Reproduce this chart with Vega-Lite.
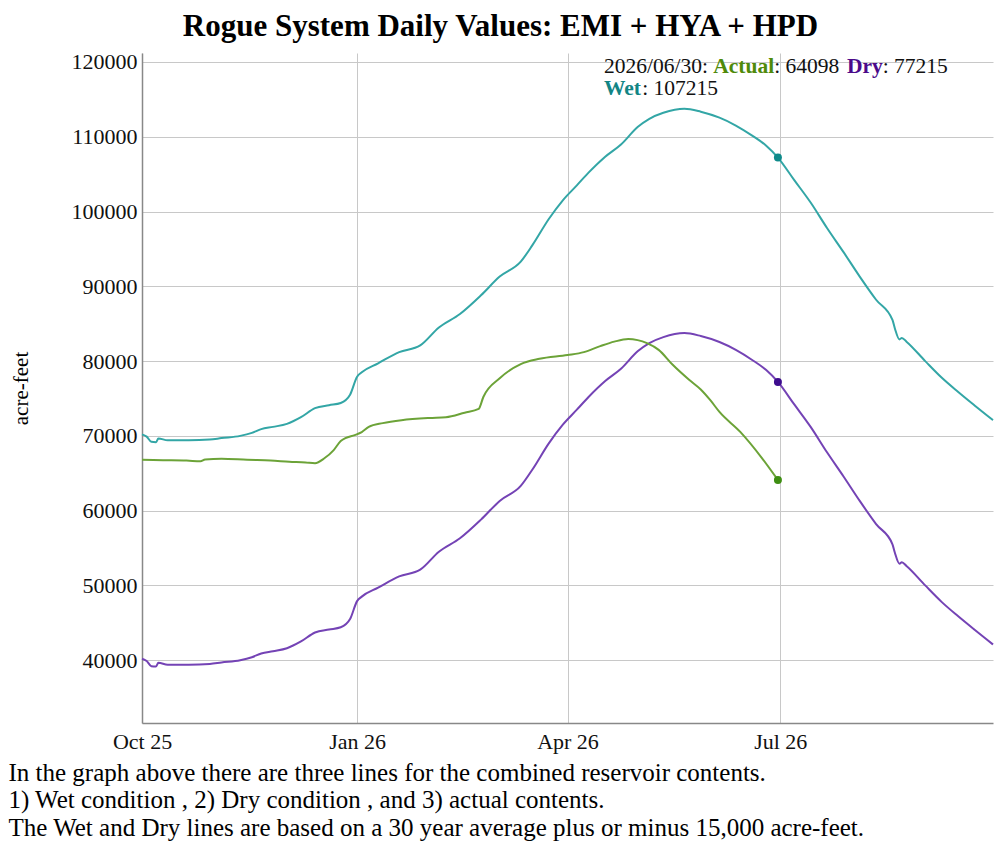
{
  "$schema": "https://vega.github.io/schema/vega-lite/v6.json",
  "width": 851,
  "height": 670,
  "autosize": {"type": "none"},
  "padding": {"left": 142, "top": 53, "right": 8, "bottom": 122},
  "background": "white",
  "config": {"view": {"stroke": null}, "font": "Liberation Serif"},
  "title": {
    "text": "Rogue System Daily Values: EMI + HYA + HPD",
    "font": "Liberation Serif",
    "fontSize": 31,
    "fontWeight": "bold",
    "color": "#000",
    "anchor": "middle",
    "dx": -67,
    "dy": 32,
    "offset": 16,
    "baseline": "alphabetic"
  },
  "datasets": {
    "series": [
      {"date": "2025-10-01", "series": "Dry", "value": 40200},
      {"date": "2025-10-03", "series": "Dry", "value": 39900},
      {"date": "2025-10-05", "series": "Dry", "value": 39200},
      {"date": "2025-10-07", "series": "Dry", "value": 39150},
      {"date": "2025-10-08", "series": "Dry", "value": 39650},
      {"date": "2025-10-12", "series": "Dry", "value": 39400},
      {"date": "2025-10-21", "series": "Dry", "value": 39400},
      {"date": "2025-10-30", "series": "Dry", "value": 39500},
      {"date": "2025-11-04", "series": "Dry", "value": 39700},
      {"date": "2025-11-12", "series": "Dry", "value": 40000},
      {"date": "2025-11-17", "series": "Dry", "value": 40400},
      {"date": "2025-11-21", "series": "Dry", "value": 40900},
      {"date": "2025-11-26", "series": "Dry", "value": 41200},
      {"date": "2025-12-02", "series": "Dry", "value": 41600},
      {"date": "2025-12-08", "series": "Dry", "value": 42500},
      {"date": "2025-12-14", "series": "Dry", "value": 43700},
      {"date": "2025-12-20", "series": "Dry", "value": 44100},
      {"date": "2025-12-25", "series": "Dry", "value": 44400},
      {"date": "2025-12-29", "series": "Dry", "value": 45500},
      {"date": "2026-01-01", "series": "Dry", "value": 47900},
      {"date": "2026-01-03", "series": "Dry", "value": 48500},
      {"date": "2026-01-10", "series": "Dry", "value": 49700},
      {"date": "2026-01-19", "series": "Dry", "value": 51200},
      {"date": "2026-01-28", "series": "Dry", "value": 52100},
      {"date": "2026-02-05", "series": "Dry", "value": 54500},
      {"date": "2026-02-14", "series": "Dry", "value": 56300},
      {"date": "2026-02-23", "series": "Dry", "value": 58800},
      {"date": "2026-03-03", "series": "Dry", "value": 61300},
      {"date": "2026-03-12", "series": "Dry", "value": 63300},
      {"date": "2026-03-17", "series": "Dry", "value": 65500},
      {"date": "2026-03-24", "series": "Dry", "value": 69000},
      {"date": "2026-03-30", "series": "Dry", "value": 71500},
      {"date": "2026-04-05", "series": "Dry", "value": 73500},
      {"date": "2026-04-10", "series": "Dry", "value": 75200},
      {"date": "2026-04-17", "series": "Dry", "value": 77300},
      {"date": "2026-04-24", "series": "Dry", "value": 79000},
      {"date": "2026-05-01", "series": "Dry", "value": 81300},
      {"date": "2026-05-06", "series": "Dry", "value": 82400},
      {"date": "2026-05-12", "series": "Dry", "value": 83200},
      {"date": "2026-05-21", "series": "Dry", "value": 83750},
      {"date": "2026-05-28", "series": "Dry", "value": 83350},
      {"date": "2026-06-05", "series": "Dry", "value": 82550},
      {"date": "2026-06-12", "series": "Dry", "value": 81500},
      {"date": "2026-06-19", "series": "Dry", "value": 80150},
      {"date": "2026-06-25", "series": "Dry", "value": 78800},
      {"date": "2026-06-30", "series": "Dry", "value": 77215},
      {"date": "2026-07-07", "series": "Dry", "value": 74200},
      {"date": "2026-07-14", "series": "Dry", "value": 71200},
      {"date": "2026-07-21", "series": "Dry", "value": 67800},
      {"date": "2026-07-28", "series": "Dry", "value": 64600},
      {"date": "2026-08-04", "series": "Dry", "value": 61300},
      {"date": "2026-08-11", "series": "Dry", "value": 58200},
      {"date": "2026-08-18", "series": "Dry", "value": 55500},
      {"date": "2026-08-19", "series": "Dry", "value": 54400},
      {"date": "2026-08-21", "series": "Dry", "value": 52900},
      {"date": "2026-08-22", "series": "Dry", "value": 53100},
      {"date": "2026-08-24", "series": "Dry", "value": 52600},
      {"date": "2026-09-01", "series": "Dry", "value": 50000},
      {"date": "2026-09-08", "series": "Dry", "value": 47800},
      {"date": "2026-09-15", "series": "Dry", "value": 45900},
      {"date": "2026-09-22", "series": "Dry", "value": 44100},
      {"date": "2026-09-30", "series": "Dry", "value": 42100},

      {"date": "2025-10-01", "series": "Wet", "value": 70200},
      {"date": "2025-10-03", "series": "Wet", "value": 69900},
      {"date": "2025-10-05", "series": "Wet", "value": 69200},
      {"date": "2025-10-07", "series": "Wet", "value": 69150},
      {"date": "2025-10-08", "series": "Wet", "value": 69650},
      {"date": "2025-10-12", "series": "Wet", "value": 69400},
      {"date": "2025-10-21", "series": "Wet", "value": 69400},
      {"date": "2025-10-30", "series": "Wet", "value": 69500},
      {"date": "2025-11-04", "series": "Wet", "value": 69700},
      {"date": "2025-11-12", "series": "Wet", "value": 70000},
      {"date": "2025-11-17", "series": "Wet", "value": 70400},
      {"date": "2025-11-21", "series": "Wet", "value": 70900},
      {"date": "2025-11-26", "series": "Wet", "value": 71200},
      {"date": "2025-12-02", "series": "Wet", "value": 71600},
      {"date": "2025-12-08", "series": "Wet", "value": 72500},
      {"date": "2025-12-14", "series": "Wet", "value": 73700},
      {"date": "2025-12-20", "series": "Wet", "value": 74100},
      {"date": "2025-12-25", "series": "Wet", "value": 74400},
      {"date": "2025-12-29", "series": "Wet", "value": 75500},
      {"date": "2026-01-01", "series": "Wet", "value": 77900},
      {"date": "2026-01-03", "series": "Wet", "value": 78500},
      {"date": "2026-01-10", "series": "Wet", "value": 79700},
      {"date": "2026-01-19", "series": "Wet", "value": 81200},
      {"date": "2026-01-28", "series": "Wet", "value": 82100},
      {"date": "2026-02-05", "series": "Wet", "value": 84500},
      {"date": "2026-02-14", "series": "Wet", "value": 86300},
      {"date": "2026-02-23", "series": "Wet", "value": 88800},
      {"date": "2026-03-03", "series": "Wet", "value": 91300},
      {"date": "2026-03-12", "series": "Wet", "value": 93300},
      {"date": "2026-03-17", "series": "Wet", "value": 95500},
      {"date": "2026-03-24", "series": "Wet", "value": 99000},
      {"date": "2026-03-30", "series": "Wet", "value": 101500},
      {"date": "2026-04-05", "series": "Wet", "value": 103500},
      {"date": "2026-04-10", "series": "Wet", "value": 105200},
      {"date": "2026-04-17", "series": "Wet", "value": 107300},
      {"date": "2026-04-24", "series": "Wet", "value": 109000},
      {"date": "2026-05-01", "series": "Wet", "value": 111300},
      {"date": "2026-05-06", "series": "Wet", "value": 112400},
      {"date": "2026-05-12", "series": "Wet", "value": 113200},
      {"date": "2026-05-21", "series": "Wet", "value": 113750},
      {"date": "2026-05-28", "series": "Wet", "value": 113350},
      {"date": "2026-06-05", "series": "Wet", "value": 112550},
      {"date": "2026-06-12", "series": "Wet", "value": 111500},
      {"date": "2026-06-19", "series": "Wet", "value": 110150},
      {"date": "2026-06-25", "series": "Wet", "value": 108800},
      {"date": "2026-06-30", "series": "Wet", "value": 107215},
      {"date": "2026-07-07", "series": "Wet", "value": 104200},
      {"date": "2026-07-14", "series": "Wet", "value": 101200},
      {"date": "2026-07-21", "series": "Wet", "value": 97800},
      {"date": "2026-07-28", "series": "Wet", "value": 94600},
      {"date": "2026-08-04", "series": "Wet", "value": 91300},
      {"date": "2026-08-11", "series": "Wet", "value": 88200},
      {"date": "2026-08-18", "series": "Wet", "value": 85500},
      {"date": "2026-08-19", "series": "Wet", "value": 84400},
      {"date": "2026-08-21", "series": "Wet", "value": 82900},
      {"date": "2026-08-22", "series": "Wet", "value": 83100},
      {"date": "2026-08-24", "series": "Wet", "value": 82600},
      {"date": "2026-09-01", "series": "Wet", "value": 80000},
      {"date": "2026-09-08", "series": "Wet", "value": 77800},
      {"date": "2026-09-15", "series": "Wet", "value": 75900},
      {"date": "2026-09-22", "series": "Wet", "value": 74100},
      {"date": "2026-09-30", "series": "Wet", "value": 72100},

      {"date": "2025-10-01", "series": "Actual", "value": 66800},
      {"date": "2025-10-10", "series": "Actual", "value": 66750},
      {"date": "2025-10-20", "series": "Actual", "value": 66700},
      {"date": "2025-10-26", "series": "Actual", "value": 66600},
      {"date": "2025-10-28", "series": "Actual", "value": 66850},
      {"date": "2025-11-04", "series": "Actual", "value": 66950},
      {"date": "2025-11-15", "series": "Actual", "value": 66800},
      {"date": "2025-11-25", "series": "Actual", "value": 66700},
      {"date": "2025-12-03", "series": "Actual", "value": 66550},
      {"date": "2025-12-10", "series": "Actual", "value": 66450},
      {"date": "2025-12-14", "series": "Actual", "value": 66350},
      {"date": "2025-12-18", "series": "Actual", "value": 67000},
      {"date": "2025-12-22", "series": "Actual", "value": 68100},
      {"date": "2025-12-25", "series": "Actual", "value": 69300},
      {"date": "2025-12-27", "series": "Actual", "value": 69700},
      {"date": "2025-12-31", "series": "Actual", "value": 70100},
      {"date": "2026-01-03", "series": "Actual", "value": 70500},
      {"date": "2026-01-06", "series": "Actual", "value": 71200},
      {"date": "2026-01-12", "series": "Actual", "value": 71700},
      {"date": "2026-01-20", "series": "Actual", "value": 72100},
      {"date": "2026-02-01", "series": "Actual", "value": 72400},
      {"date": "2026-02-08", "series": "Actual", "value": 72500},
      {"date": "2026-02-16", "series": "Actual", "value": 73100},
      {"date": "2026-02-22", "series": "Actual", "value": 73600},
      {"date": "2026-02-24", "series": "Actual", "value": 75200},
      {"date": "2026-03-03", "series": "Actual", "value": 77700},
      {"date": "2026-03-12", "series": "Actual", "value": 79600},
      {"date": "2026-03-20", "series": "Actual", "value": 80300},
      {"date": "2026-04-01", "series": "Actual", "value": 80800},
      {"date": "2026-04-08", "series": "Actual", "value": 81200},
      {"date": "2026-04-15", "series": "Actual", "value": 82000},
      {"date": "2026-04-21", "series": "Actual", "value": 82600},
      {"date": "2026-04-27", "series": "Actual", "value": 82950},
      {"date": "2026-05-01", "series": "Actual", "value": 82800},
      {"date": "2026-05-05", "series": "Actual", "value": 82400},
      {"date": "2026-05-10", "series": "Actual", "value": 81500},
      {"date": "2026-05-16", "series": "Actual", "value": 79500},
      {"date": "2026-05-23", "series": "Actual", "value": 77500},
      {"date": "2026-05-28", "series": "Actual", "value": 76200},
      {"date": "2026-06-01", "series": "Actual", "value": 74800},
      {"date": "2026-06-05", "series": "Actual", "value": 73200},
      {"date": "2026-06-14", "series": "Actual", "value": 70500},
      {"date": "2026-06-23", "series": "Actual", "value": 67100},
      {"date": "2026-06-30", "series": "Actual", "value": 64098}
    ],
    "current": [
      {"date": "2026-06-30", "series": "Wet", "value": 107215},
      {"date": "2026-06-30", "series": "Dry", "value": 77215},
      {"date": "2026-06-30", "series": "Actual", "value": 64098}
    ],
    "readout": [
      {"label": "2026/06/30:", "actual": 64098, "dry": 77215, "wet": 107215}
    ]
  },
  "resolve": {"scale": {"color": "independent"}},
  "layer": [
    {
      "data": {"name": "series"},
      "mark": {"type": "line", "strokeWidth": 2, "interpolate": "monotone"},
      "encoding": {
        "x": {
          "field": "date",
          "type": "temporal",
          "scale": {
            "domain": [
              {"year": 2025, "month": 10, "date": 1, "utc": true},
              {"year": 2026, "month": 9, "date": 30, "utc": true}
            ]
          },
          "axis": {
            "values": [
              {"year": 2025, "month": 10, "date": 1, "utc": true},
              {"year": 2026, "month": 1, "date": 1, "utc": true},
              {"year": 2026, "month": 4, "date": 1, "utc": true},
              {"year": 2026, "month": 7, "date": 1, "utc": true}
            ],
            "labelExpr": "utcFormat(datum.value, '%b %y')",
            "labelFont": "Liberation Serif",
            "labelFontSize": 22,
            "labelColor": "#111",
            "labelFlush": false,
            "labelPadding": 8,
            "ticks": false,
            "domainColor": "#888",
            "domainWidth": 1.5,
            "grid": true,
            "gridColor": "#c8c8c8",
            "title": [
              "In the graph above there are three lines for the combined reservoir contents.",
              "1) Wet condition , 2) Dry condition , and 3) actual contents.",
              "The Wet and Dry lines are based on a 30 year average plus or minus 15,000 acre-feet."
            ],
            "titleFont": "Liberation Serif",
            "titleFontSize": 25,
            "titleFontWeight": "normal",
            "titleColor": "#000",
            "titleAlign": "left",
            "titleAnchor": "start",
            "titleBaseline": "alphabetic",
            "titleX": -134,
            "titleY": 57,
            "titleLineHeight": 27.5
          }
        },
        "y": {
          "field": "value",
          "type": "quantitative",
          "scale": {"domain": [31600, 121200], "nice": false, "zero": false},
          "axis": {
            "values": [40000, 50000, 60000, 70000, 80000, 90000, 100000, 110000, 120000],
            "format": "d",
            "labelFont": "Liberation Serif",
            "labelFontSize": 22,
            "labelColor": "#111",
            "labelPadding": 5,
            "ticks": false,
            "domainColor": "#888",
            "domainWidth": 1.5,
            "grid": true,
            "gridColor": "#c8c8c8",
            "title": "acre-feet",
            "titleFont": "Liberation Serif",
            "titleFontSize": 21,
            "titleFontWeight": "normal",
            "titleColor": "#000",
            "titlePadding": 40
          }
        },
        "color": {
          "field": "series",
          "type": "nominal",
          "scale": {"domain": ["Wet", "Dry", "Actual"], "range": ["#33a6a6", "#7443b5", "#6ca338"]},
          "legend": null
        }
      }
    },
    {
      "data": {"name": "current"},
      "mark": {"type": "point", "filled": true, "size": 64, "opacity": 1},
      "encoding": {
        "x": {"field": "date", "type": "temporal"},
        "y": {"field": "value", "type": "quantitative"},
        "color": {
          "field": "series",
          "type": "nominal",
          "scale": {"domain": ["Wet", "Dry", "Actual"], "range": ["#0e8a8a", "#3d0c8e", "#3e8e12"]},
          "legend": null
        }
      }
    },
    {
      "data": {"name": "readout"},
      "mark": {"type": "text", "align": "left", "baseline": "alphabetic", "font": "Liberation Serif", "fontSize": 21.5, "color": "#111", "dx": 0},
      "encoding": {
        "x": {"datum": {"year": 2026, "month": 4, "date": 16, "hours": 14, "utc": true}, "type": "temporal"},
        "y": {"datum": 118525, "type": "quantitative"},
        "text": {"field": "label"}
      }
    },
    {
      "data": {"name": "readout"},
      "mark": {"type": "text", "align": "left", "baseline": "alphabetic", "font": "Liberation Serif", "fontSize": 21.5, "fontWeight": "bold", "color": "#4f8a0a", "dx": 109.3},
      "encoding": {
        "x": {"datum": {"year": 2026, "month": 4, "date": 16, "hours": 14, "utc": true}, "type": "temporal"},
        "y": {"datum": 118525, "type": "quantitative"},
        "text": {"value": "Actual"}
      }
    },
    {
      "data": {"name": "readout"},
      "transform": [{"calculate": "': ' + datum.actual", "as": "t"}],
      "mark": {"type": "text", "align": "left", "baseline": "alphabetic", "font": "Liberation Serif", "fontSize": 21.5, "color": "#111", "dx": 170.2},
      "encoding": {
        "x": {"datum": {"year": 2026, "month": 4, "date": 16, "hours": 14, "utc": true}, "type": "temporal"},
        "y": {"datum": 118525, "type": "quantitative"},
        "text": {"field": "t"}
      }
    },
    {
      "data": {"name": "readout"},
      "mark": {"type": "text", "align": "left", "baseline": "alphabetic", "font": "Liberation Serif", "fontSize": 21.5, "fontWeight": "bold", "color": "#4b0a8a", "dx": 243},
      "encoding": {
        "x": {"datum": {"year": 2026, "month": 4, "date": 16, "hours": 14, "utc": true}, "type": "temporal"},
        "y": {"datum": 118525, "type": "quantitative"},
        "text": {"value": "Dry"}
      }
    },
    {
      "data": {"name": "readout"},
      "transform": [{"calculate": "': ' + datum.dry", "as": "t"}],
      "mark": {"type": "text", "align": "left", "baseline": "alphabetic", "font": "Liberation Serif", "fontSize": 21.5, "color": "#111", "dx": 278.8},
      "encoding": {
        "x": {"datum": {"year": 2026, "month": 4, "date": 16, "hours": 14, "utc": true}, "type": "temporal"},
        "y": {"datum": 118525, "type": "quantitative"},
        "text": {"field": "t"}
      }
    },
    {
      "data": {"name": "readout"},
      "mark": {"type": "text", "align": "left", "baseline": "alphabetic", "font": "Liberation Serif", "fontSize": 21.5, "fontWeight": "bold", "color": "#128585", "dx": 0},
      "encoding": {
        "x": {"datum": {"year": 2026, "month": 4, "date": 16, "hours": 14, "utc": true}, "type": "temporal"},
        "y": {"datum": 115583, "type": "quantitative"},
        "text": {"value": "Wet"}
      }
    },
    {
      "data": {"name": "readout"},
      "transform": [{"calculate": "': ' + datum.wet", "as": "t"}],
      "mark": {"type": "text", "align": "left", "baseline": "alphabetic", "font": "Liberation Serif", "fontSize": 21.5, "color": "#111", "dx": 38.2},
      "encoding": {
        "x": {"datum": {"year": 2026, "month": 4, "date": 16, "hours": 14, "utc": true}, "type": "temporal"},
        "y": {"datum": 115583, "type": "quantitative"},
        "text": {"field": "t"}
      }
    }
  ]
}
